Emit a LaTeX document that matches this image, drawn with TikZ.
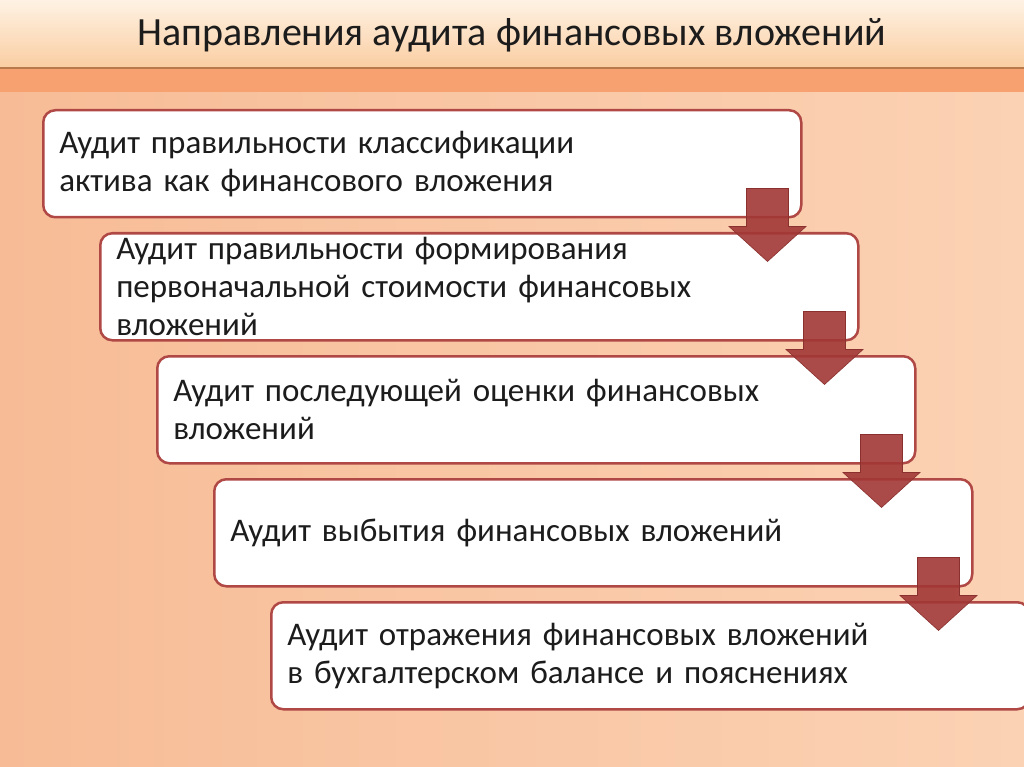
\documentclass[tikz,border=0pt]{standalone}
\usepackage{fontspec}
\setmainfont{Carlito}
\usetikzlibrary{positioning}
\usetikzlibrary{calc}
\definecolor{boxline}{RGB}{176,72,70}
\definecolor{arrowred}{RGB}{162,56,54}
\definecolor{textdark}{RGB}{28,28,28}
\definecolor{peachleft}{RGB}{247,188,150}
\definecolor{peachright}{RGB}{251,210,180}
\definecolor{titletop}{RGB}{254,242,228}
\definecolor{titlebottom}{RGB}{250,206,162}
\definecolor{titleline}{RGB}{184,122,74}
\definecolor{bandorange}{RGB}{247,160,112}
\tikzset{
    x=1pt, y=-1pt,
    node distance=13.5pt,
    stagebox/.style={
        draw=boxline,
        line width=2.5pt,
        fill=white,
        rounded corners=12pt,
        minimum width=758pt,
        minimum height=107pt,
        text width=726pt,
        inner xsep=16pt,
        align=left,
        text=textdark,
        font=\fontsize{33}{38}\selectfont
    },
    stagearrow/.style={
        fill=arrowred,
        fill opacity=0.9,
        draw=arrowred!85!black,
        line width=0.6pt
    }
}
% block arrow hanging from the lower right corner of a box
\newcommand{\downarrowfrom}[1]{
    \filldraw[stagearrow] ($(#1.south east)+(-56,-30)$) -- ++(42,0) -- ++(0,38)
        -- ++(17.5,0) -- ($(#1.south east)+(-35,43)$) -- ($(#1.south east)+(-73.5,8)$)
        -- ++(17.5,0) -- cycle;
}

\begin{document}
\begin{tikzpicture}
    \clip (0,0) rectangle (1024,767);
    % background
    \shade[left color=peachleft, right color=peachright] (0,0) rectangle (1024,767);
    \shade[top color=titletop, bottom color=titlebottom] (0,0) rectangle (1024,67);
    \fill[bandorange] (0,69) rectangle (1024,92);
    \draw[titleline, line width=2.5pt] (0,68) -- (1024,68);
    \node[text=textdark, font=\fontsize{40}{48}\selectfont, anchor=base] (title) at (512,46)
        {Направления аудита финансовых вложений};

    \node[stagebox, anchor=north west] (b1) at (42,109)
        {Аудит правильности классификации\\актива как финансового вложения};
    \node[stagebox, below=of b1.south west, anchor=north west, xshift=57pt] (b2)
        {Аудит правильности формирования\\первоначальной стоимости финансовых\\вложений};
    \node[stagebox, below=of b2.south west, anchor=north west, xshift=57pt] (b3)
        {Аудит последующей оценки финансовых\\вложений};
    \node[stagebox, below=of b3.south west, anchor=north west, xshift=57pt] (b4)
        {Аудит выбытия финансовых вложений};
    \node[stagebox, below=of b4.south west, anchor=north west, xshift=57pt] (b5)
        {Аудит отражения финансовых вложений\\в бухгалтерском балансе и пояснениях};

    \downarrowfrom{b1}
    \downarrowfrom{b2}
    \downarrowfrom{b3}
    \downarrowfrom{b4}
\end{tikzpicture}
\end{document}
